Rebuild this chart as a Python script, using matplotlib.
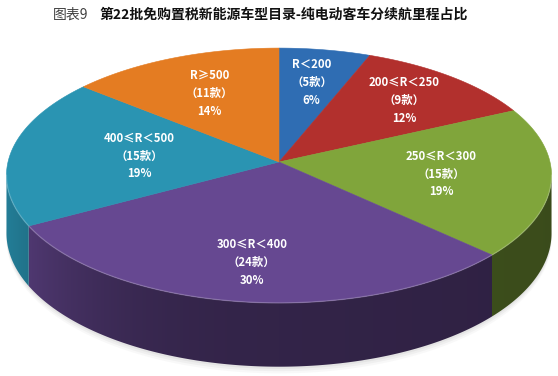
import numpy as np
import matplotlib
matplotlib.use('Agg')
import matplotlib.pyplot as plt
from matplotlib.patches import Polygon
from matplotlib.colors import to_rgb

plt.rcParams['font.family'] = ['Noto Sans CJK SC', 'DejaVu Sans']

# data
ranges = ['R＜200', '200≤R＜250', '250≤R＜300', '300≤R＜400', '400≤R＜500', 'R≥500']
counts = [5, 9, 15, 24, 15, 11]
shares = [6, 12, 19, 30, 19, 14]
colors = ['#2f6db3', '#b2302d', '#80a53b', '#664891', '#2a94b2', '#e47c22']
title_a = '图表9'
title_b = '第22批免购置税新能源车型目录-纯电动客车分续航里程占比'

# where the label sits along the slice radius
label_r = [0.69, 0.71, 0.60, 0.74, 0.52, 0.64]

# pie geometry in pixels (simple perspective, back edge farther away)
XC, YC = 279, 162
A, B, K = 271, 126, 0.106
D = 57
W, H = 558, 376


def proj(u, v, drop=0.0):
    s = 1.0 / (1.0 + K * v)
    return XC + A * u * s, YC - B * v * s + drop * s


def arc(t0, t1, drop=0.0):
    th = np.radians(np.linspace(t0, t1, int(abs(t1 - t0) * 2) + 2))
    return [proj(np.cos(t), np.sin(t), drop) for t in th]


fig = plt.figure(figsize=(5.58, 3.76), dpi=100)
ax = fig.add_axes([0, 0, 1, 1])

total = float(sum(shares))
starts = []
a = 90.0
for s in shares:
    starts.append((a, a - 360.0 * s / total))
    a -= 360.0 * s / total

# soft shadow under the pie
for off, al in [(6, 0.05), (4, 0.07), (2, 0.09)]:
    pts = arc(0, 360, D + off)
    ax.add_patch(Polygon(pts, closed=True, facecolor='#808080', edgecolor='none',
                         alpha=al, zorder=0))

# front walls, one shaded polygon per slice (front arc runs -174..-6 deg)
FRONT0, FRONT1 = -6.0, -174.0
xs = np.linspace(0, W, W)
t = (xs - XC) / A
fx = np.clip(0.5 + 0.3 * np.clip(-t, 0, None) ** 3 - 0.04 * t, 0.3, 0.9)
for (t0, t1), c in zip(starts, colors):
    lo, hi = min(t0, t1), max(t0, t1)
    for shift in (0.0, -360.0):
        a0 = max(lo + shift, FRONT1)
        a1 = min(hi + shift, FRONT0)
        if a1 <= a0:
            continue
        pts = arc(a1, a0) + arc(a0, a1, D)
        poly = Polygon(pts, closed=True, facecolor='none', edgecolor='none')
        ax.add_patch(poly)
        rgb = np.array(to_rgb(c))
        img = np.tile((fx[:, None] * rgb[None, :])[None, :, :], (2, 1, 1))
        im = ax.imshow(img, extent=[0, W, H, 0], aspect='auto',
                       interpolation='bilinear', zorder=1)
        im.set_clip_path(poly)

# top faces
for (t0, t1), c in zip(starts, colors):
    pts = [proj(0, 0)] + arc(t0, t1)
    ax.add_patch(Polygon(pts, closed=True, facecolor=c, edgecolor=c, lw=0.4, zorder=2))

# light rim on the front edge
rim = np.array(arc(FRONT1, FRONT0))
ax.plot(rim[:, 0], rim[:, 1], color='white', alpha=0.18, lw=1.0, zorder=3)

# labels
for (t0, t1), rng, n, p, r in zip(starts, ranges, counts, shares, label_r):
    tm = np.radians(0.5 * (t0 + t1))
    x, y = proj(r * np.cos(tm), r * np.sin(tm))
    ax.text(x, y, f'{rng}\n（{n}款）\n{p}%', ha='center', va='center',
            color='white', fontsize=8.2, fontweight='bold', linespacing=1.5,
            zorder=4)

ax.text(53, 15, title_a, ha='left', va='center', fontsize=10, color='#404040')
ax.text(100, 15, title_b, ha='left', va='center', fontsize=10,
        fontweight='bold', color='#111111')

ax.set_xlim(0, W)
ax.set_ylim(H, 0)
ax.axis('off')

fig.savefig('out.png', dpi=100)
